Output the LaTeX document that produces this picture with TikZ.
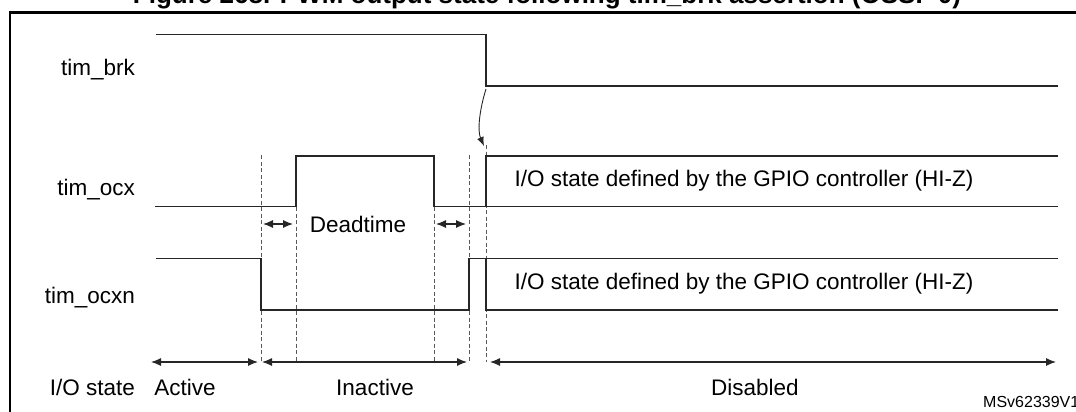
\documentclass[tikz,border=0pt]{standalone}
\usepackage{fontspec}
\setmainfont{Liberation Sans}
\usetikzlibrary{arrows.meta}
\begin{document}
\begin{tikzpicture}[x=1pt,y=-1pt,
    sig/.style={line width=1.3pt, black!85},
    guide/.style={dash pattern=on 4pt off 2.5pt, line width=0.75pt, black!65},
    span/.style={{Latex[length=10pt,width=8pt]}-{Latex[length=10pt,width=8pt]}, line width=1.1pt, black!85},
    lbl/.style={font=\fontsize{22.5}{26}\selectfont, inner sep=0pt}]
    \useasboundingbox (0,0) rectangle (1076,412);
    % frame and caption, both cut by the page
    \draw[line width=2.5pt] (10,440) -- (10,12.7) -- (1100,12.7);
    \node[font=\fontsize{26}{30}\selectfont\bfseries, anchor=base] (title) at (547,3.5) {Figure 268. PWM output state following tim\_brk assertion (OSSI=0)};
    % signal names
    \node[lbl, anchor=east] (brk) at (135,70) {tim\_brk};
    \node[lbl, anchor=east] (ocx) at (135,190) {tim\_ocx};
    \node[lbl, anchor=east] (ocxn) at (135,298) {tim\_ocxn};
    \node[lbl, anchor=east] (iostate) at (135,387) {I/O state};
    % time guides
    \foreach \x in {261,296,434,469} \draw[guide] (\x,155) -- (\x,362);
    \draw[guide] (486,145) -- (486,362);
    % waveforms
    \draw[sig] (156,34.5) -- (486,34.5) -- (486,86) -- (1058,86);
    \draw[sig] (155,206.5) -- (296,206.5) -- (296,156) -- (434,156) -- (434,206.5) -- (1058,206.5);
    \draw[sig] (1058,156) -- (486,156) -- (486,206.5);
    \draw[sig] (156,258.5) -- (261,258.5) -- (261,310) -- (469,310) -- (469,258.5) -- (1058,258.5);
    \draw[sig] (486,258.5) -- (486,310) -- (1058,310);
    \node[lbl] (hizx) at (744,181) {I/O state defined by the GPIO controller (HI-Z)};
    \node[lbl] (hizn) at (744,284) {I/O state defined by the GPIO controller (HI-Z)};
    % break forces the outputs
    \coordinate (brkfall) at (486,89);
    \coordinate (outoff) at (484,146);
    \draw[-{Latex[length=9pt,width=7pt]}, line width=0.9pt, black!85] (brkfall) .. controls (480,108) and (477,130) .. (outoff);
    % deadtime
    \path (263,224) coordinate (dtlA) (293,224) coordinate (dtlB)
          (436,224) coordinate (dtrA) (466,224) coordinate (dtrB);
    \draw[span] (dtlA) -- (dtlB);
    \draw[span] (dtrA) -- (dtrB);
    \node[lbl] (dead) at (358,224) {Deadtime};
    % I/O states
    \path (151,362) coordinate (actA) (258,362) coordinate (actB)
          (262,362) coordinate (inaA) (467,362) coordinate (inaB)
          (490,362) coordinate (disA) (1056,362) coordinate (disB);
    \draw[span] (actA) -- (actB);
    \draw[span] (inaA) -- (inaB);
    \draw[span] (disA) -- (disB);
    \node[lbl] (active) at (185,387) {Active};
    \node[lbl] (inactive) at (375,387) {Inactive};
    \node[lbl] (disabled) at (755,387) {Disabled};
    \node[font=\fontsize{16}{19}\selectfont, anchor=west, inner sep=0pt] (ref) at (983,402) {MSv62339V1};
\end{tikzpicture}
\end{document}
